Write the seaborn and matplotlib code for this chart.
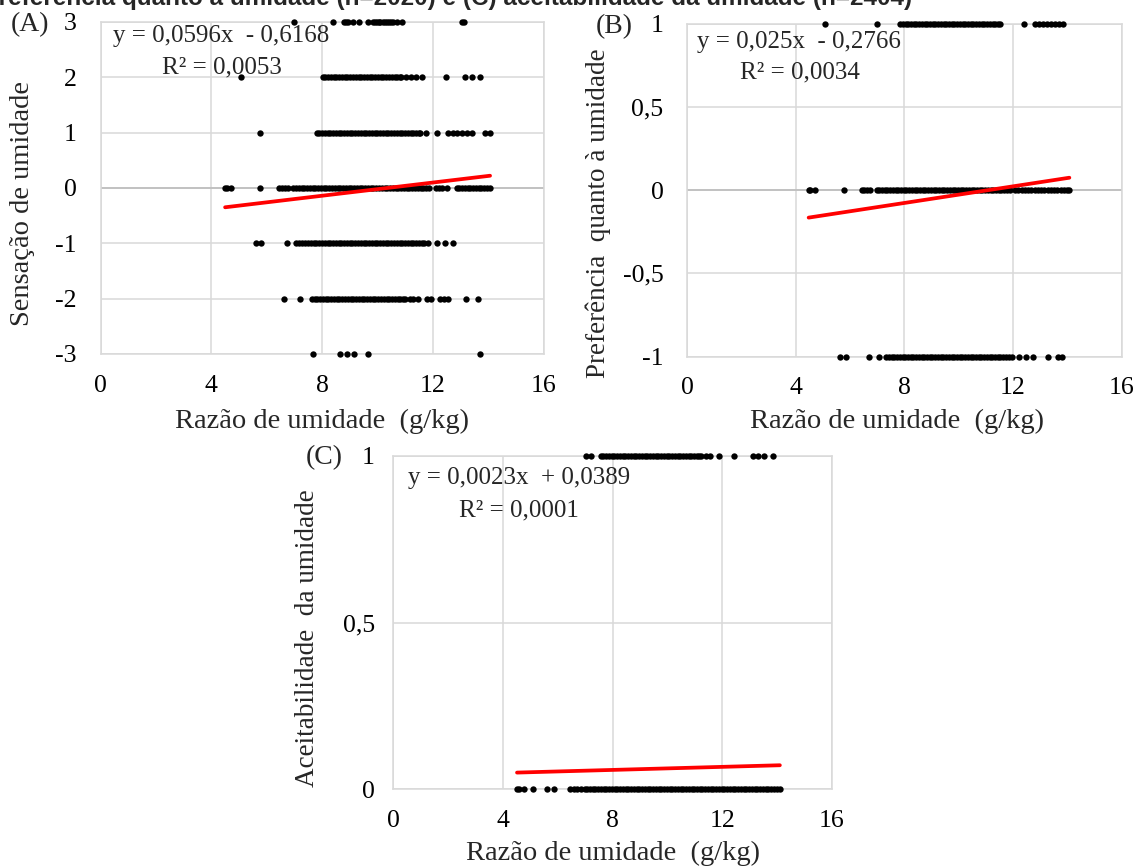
import numpy as np
import pandas as pd
import matplotlib
matplotlib.use("Agg")
import matplotlib.pyplot as plt
import seaborn as sns

# ---------------------------------------------------------------------------
# Observations: humidity ratio (g/kg) for each vote level
# ---------------------------------------------------------------------------
# (A) Humidity sensation votes (-3 .. 3)
sens_p3 = [7.00, 8.38, 8.79, 8.86, 8.95, 9.13, 9.35, 9.67, 9.85, 9.93, 9.99, 10.05,
           10.11, 10.19, 10.27, 10.35, 10.42, 10.50, 10.57, 10.71, 10.88, 13.06, 13.12]
sens_p2 = [5.06, 8.02, 8.12, 8.22, 8.32, 8.42, 8.52, 8.62, 8.72, 8.82, 8.92, 9.02,
           9.12, 9.22, 9.32, 9.42, 9.52, 9.62, 9.72, 9.82, 9.92, 10.02, 10.12, 10.22,
           10.32, 10.42, 10.52, 10.62, 10.72, 10.82, 10.87, 11.05, 11.23, 11.41, 11.60,
           12.47, 13.16, 13.42, 13.70]
sens_p1 = [5.76, 7.81, 7.90, 8.00, 8.10, 8.20, 8.30, 8.40, 8.50, 8.60, 8.70, 8.80,
           8.90, 9.00, 9.10, 9.20, 9.30, 9.40, 9.50, 9.60, 9.70, 9.80, 9.90, 10.00,
           10.10, 10.20, 10.30, 10.40, 10.50, 10.60, 10.70, 10.80, 10.90, 11.00, 11.10,
           11.20, 11.30, 11.40, 11.50, 11.54, 11.76, 12.14, 12.56, 12.74, 12.86, 13.04,
           13.22, 13.40, 13.88, 14.05]
sens_0 = [4.50, 4.56, 4.70, 5.76, 6.46, 6.56, 6.66, 6.78, 6.96, 7.06, 7.16, 7.26,
          7.36, 7.46, 7.56, 7.66, 7.76, 7.86, 7.96, 8.06, 8.16, 8.26, 8.36, 8.46,
          8.56, 8.66, 8.76, 8.86, 8.96, 9.06, 9.16, 9.26, 9.36, 9.46, 9.56, 9.66,
          9.76, 9.86, 9.96, 10.06, 10.16, 10.26, 10.36, 10.46, 10.56, 10.66, 10.76,
          10.86, 10.96, 11.06, 11.16, 11.26, 11.36, 11.46, 11.56, 11.66, 11.76, 11.86,
          12.12, 12.22, 12.34, 12.50, 12.86, 12.96, 13.06, 13.16, 13.26, 13.36, 13.46,
          13.56, 13.66, 13.76, 13.86, 13.96, 14.07]
sens_m1 = [5.62, 5.78, 6.72, 7.06, 7.16, 7.26, 7.38, 7.50, 7.60, 7.70, 7.80, 7.90,
           8.00, 8.10, 8.20, 8.30, 8.40, 8.50, 8.60, 8.70, 8.80, 8.90, 9.00, 9.10,
           9.20, 9.30, 9.40, 9.50, 9.60, 9.70, 9.80, 9.90, 10.00, 10.10, 10.20, 10.30,
           10.40, 10.50, 10.60, 10.70, 10.80, 10.90, 11.00, 11.10, 11.20, 11.30, 11.40,
           11.50, 11.60, 11.70, 11.84, 12.17, 12.43, 12.73]
sens_m2 = [6.64, 7.21, 7.63, 7.73, 7.83, 7.93, 8.03, 8.13, 8.23, 8.33, 8.43, 8.53,
           8.63, 8.73, 8.83, 8.93, 9.03, 9.13, 9.23, 9.33, 9.43, 9.53, 9.63, 9.73,
           9.83, 9.93, 10.03, 10.13, 10.23, 10.33, 10.43, 10.53, 10.63, 10.73, 10.83,
           10.93, 11.00, 11.18, 11.30, 11.48, 11.80, 11.92, 12.26, 12.40, 12.56, 13.19,
           13.65]
sens_m3 = [7.66, 8.65, 8.91, 9.17, 9.67, 13.71]

# (B) Humidity preference votes (-1 .. 1)
pref_p1 = [5.08, 6.98, 7.85, 7.95, 8.05, 8.15, 8.25, 8.35, 8.45, 8.55, 8.65, 8.75,
           8.85, 8.95, 9.05, 9.15, 9.25, 9.35, 9.45, 9.55, 9.65, 9.75, 9.85, 9.95,
           10.05, 10.15, 10.25, 10.35, 10.45, 10.55, 10.65, 10.75, 10.85, 10.95, 11.05,
           11.15, 11.25, 11.35, 11.45, 11.52, 12.42, 12.81, 12.95, 13.10, 13.25, 13.40,
           13.55, 13.70, 13.85]
pref_0 = [4.48, 4.53, 4.71, 5.79, 6.43, 6.53, 6.63, 6.74, 6.98, 7.08, 7.18, 7.28,
          7.38, 7.48, 7.58, 7.68, 7.78, 7.88, 7.98, 8.08, 8.18, 8.28, 8.38, 8.48,
          8.58, 8.68, 8.78, 8.88, 8.98, 9.08, 9.18, 9.28, 9.38, 9.48, 9.58, 9.68,
          9.78, 9.88, 9.98, 10.08, 10.18, 10.28, 10.38, 10.48, 10.58, 10.68, 10.78,
          10.88, 10.98, 11.08, 11.18, 11.28, 11.38, 11.48, 11.58, 11.68, 11.78, 11.89,
          12.08, 12.20, 12.32, 12.44, 12.56, 12.68, 12.80, 12.92, 13.04, 13.16, 13.28,
          13.40, 13.52, 13.64, 13.76, 13.88, 13.98, 14.08]
pref_m1 = [5.62, 5.86, 6.71, 7.08, 7.34, 7.44, 7.54, 7.64, 7.74, 7.84, 7.94, 8.04,
           8.14, 8.24, 8.34, 8.44, 8.54, 8.64, 8.74, 8.84, 8.94, 9.04, 9.14, 9.24,
           9.34, 9.44, 9.54, 9.64, 9.74, 9.84, 9.94, 10.04, 10.14, 10.24, 10.34, 10.44,
           10.54, 10.64, 10.74, 10.84, 10.94, 11.04, 11.14, 11.24, 11.34, 11.44, 11.54,
           11.64, 11.74, 11.84, 11.97, 12.24, 12.50, 12.74, 13.29, 13.68, 13.81]

# (C) Humidity acceptability votes (0 / 1)
acc_1 = [7.02, 7.20, 7.57, 7.67, 7.77, 7.87, 7.97, 8.07, 8.17, 8.27, 8.37, 8.47,
         8.57, 8.67, 8.77, 8.87, 8.97, 9.07, 9.17, 9.27, 9.37, 9.47, 9.57, 9.67,
         9.77, 9.87, 9.97, 10.07, 10.17, 10.27, 10.37, 10.47, 10.57, 10.67, 10.77,
         10.87, 10.97, 11.07, 11.17, 11.21, 11.41, 11.54, 11.87, 12.42, 13.12, 13.32,
         13.52, 13.84]
acc_0 = [4.52, 4.58, 4.77, 5.10, 5.62, 5.85, 6.46, 6.58, 6.70, 6.85, 6.98, 7.08,
         7.18, 7.28, 7.38, 7.48, 7.58, 7.68, 7.78, 7.88, 7.98, 8.08, 8.18, 8.28,
         8.38, 8.48, 8.58, 8.68, 8.78, 8.88, 8.98, 9.08, 9.18, 9.28, 9.38, 9.48,
         9.58, 9.68, 9.78, 9.88, 9.98, 10.08, 10.18, 10.28, 10.38, 10.48, 10.58,
         10.68, 10.78, 10.88, 10.98, 11.08, 11.18, 11.28, 11.38, 11.48, 11.58, 11.68,
         11.78, 11.88, 11.98, 12.08, 12.18, 12.28, 12.38, 12.48, 12.58, 12.68, 12.78,
         12.88, 12.98, 13.08, 13.18, 13.28, 13.38, 13.48, 13.58, 13.68, 13.78, 13.88,
         13.98, 14.10]

# Linear trend lines (slope, intercept) and their R²
sens_fit = (0.0596, -0.6168, 0.0053)
pref_fit = (0.025, -0.2766, 0.0034)
acc_fit = (0.0023, 0.0389, 0.0001)

# Axis ticks and labels
x_ticks = [0, 4, 8, 12, 16]
x_ticklabels = ["0", "4", "8", "12", "16"]
sens_ticks = [-3, -2, -1, 0, 1, 2, 3]
sens_ticklabels = ["-3", "-2", "-1", "0", "1", "2", "3"]
pref_ticks = [-1, -0.5, 0, 0.5, 1]
pref_ticklabels = ["-1", "-0,5", "0", "0,5", "1"]
acc_ticks = [0, 0.5, 1]
acc_ticklabels = ["0", "0,5", "1"]

x_title = "Razão de umidade  (g/kg)"
caption = ("(B) Preferência quanto à umidade (n=2020) e (C) aceitabilidade "
           "da umidade (n=2404)")


def to_frame(levels):
    rows = []
    for yv, xs in levels:
        rows.extend((x, yv) for x in xs)
    return pd.DataFrame(rows, columns=["x", "y"])


sens_df = to_frame([(3, sens_p3), (2, sens_p2), (1, sens_p1), (0, sens_0),
                    (-1, sens_m1), (-2, sens_m2), (-3, sens_m3)])
pref_df = to_frame([(1, pref_p1), (0, pref_0), (-1, pref_m1)])
acc_df = to_frame([(1, acc_1), (0, acc_0)])

# ---------------------------------------------------------------------------
sns.set_theme(style="whitegrid")
plt.rcParams["font.family"] = ["Liberation Serif", "DejaVu Serif"]
plt.rcParams["axes.unicode_minus"] = False

W, H = 1138, 868
fig = plt.figure(figsize=(W / 100, H / 100), dpi=100)
fig.patch.set_facecolor("white")


def box(left, top, right, bottom):
    return [left / W, 1 - bottom / H, (right - left) / W, (bottom - top) / H]


def fxy(px, py):
    return px / W, 1 - py / H


GRID = "#d9d9d9"
FS = 18.5
TITLE_FS = 20.5


def panel(rect, df, fit, yticks, yticklabels, ylim, ypad, zero_line):
    ax = fig.add_axes(rect)
    ax.set_facecolor("white")
    sns.scatterplot(data=df, x="x", y="y", ax=ax, color="black", s=21,
                    linewidth=0, clip_on=False, zorder=4, legend=False)
    slope, intercept, _ = fit
    xl = np.array([df["x"].min(), df["x"].max()])
    sns.lineplot(x=xl, y=slope * xl + intercept, ax=ax, color="#ff0000",
                 linewidth=2.7, zorder=5)
    ax.set_xlim(0, 16)
    ax.set_ylim(*ylim)
    ax.set_xticks(x_ticks)
    ax.set_xticklabels(x_ticklabels)
    ax.set_yticks(yticks)
    ax.set_yticklabels(yticklabels)
    ax.grid(True, color=GRID, linewidth=1.1)
    ax.set_axisbelow(True)
    for sp in ax.spines.values():
        sp.set_color(GRID)
        sp.set_linewidth(1.1)
    if zero_line:
        ax.axhline(0, color="#bfbfbf", linewidth=1.3, zorder=1)
    ax.tick_params(axis="both", length=0, labelsize=FS, colors="black")
    ax.tick_params(axis="x", pad=15)
    ax.tick_params(axis="y", pad=ypad)
    ax.set_xlabel("")
    ax.set_ylabel("")
    return ax


axA = panel(box(100.5, 22, 543.5, 354), sens_df, sens_fit, sens_ticks,
            sens_ticklabels, (-3, 3), 17, True)
axB = panel(box(687, 24, 1121.5, 356.5), pref_df, pref_fit, pref_ticks,
            pref_ticklabels, (-1, 1), 17, True)
axC = panel(box(393, 456, 832, 789), acc_df, acc_fit, acc_ticks,
            acc_ticklabels, (0, 1), 13, False)


def eq_text(fit):
    slope, intercept, r2 = fit
    s = f"{slope:.4f}".rstrip("0").replace(".", ",")
    i = f"{abs(intercept):.4f}".replace(".", ",")
    if intercept < 0:
        line = f"y = {s}x  - {i}"
    else:
        line = f"y = {s}x  + {i}"
    return line, f"R² = {r2:.4f}".replace(".", ",")


for fit, (ex, ey), (rx, ry) in [(sens_fit, (113, 36), (162, 67)),
                                (pref_fit, (697, 42), (740, 72)),
                                (acc_fit, (408, 478), (459, 510))]:
    l1, l2 = eq_text(fit)
    fig.text(*fxy(ex, ey), l1, fontsize=18, ha="left", va="center")
    fig.text(*fxy(rx, ry), l2, fontsize=18, ha="left", va="center")

# Panel letters
for lab, (px, py) in [("(A)", (30, 25)), ("(B)", (614, 27)), ("(C)", (324, 458))]:
    fig.text(*fxy(px, py), lab, fontsize=20, ha="center", va="center")

# Axis titles
fig.text(*fxy(23, 203), "Sensação de umidade", fontsize=TITLE_FS, rotation=90,
         ha="center", va="center")
fig.text(*fxy(598, 213), "Preferência  quanto à umidade", fontsize=19.5,
         rotation=90, ha="center", va="center")
fig.text(*fxy(308, 638), "Aceitabilidade  da umidade", fontsize=19.5,
         rotation=90, ha="center", va="center")
for px, py in [(322, 421), (897, 421), (613, 853)]:
    fig.text(*fxy(px, py), x_title, fontsize=TITLE_FS, ha="center", va="center")

# Caption line running above the panels
fig.text(*fxy(912, 4.5), caption, fontsize=17.5, fontweight="bold",
         family=["Liberation Sans", "DejaVu Sans"], ha="right", va="baseline")

fig.savefig("out.png", dpi=100, facecolor="white")
